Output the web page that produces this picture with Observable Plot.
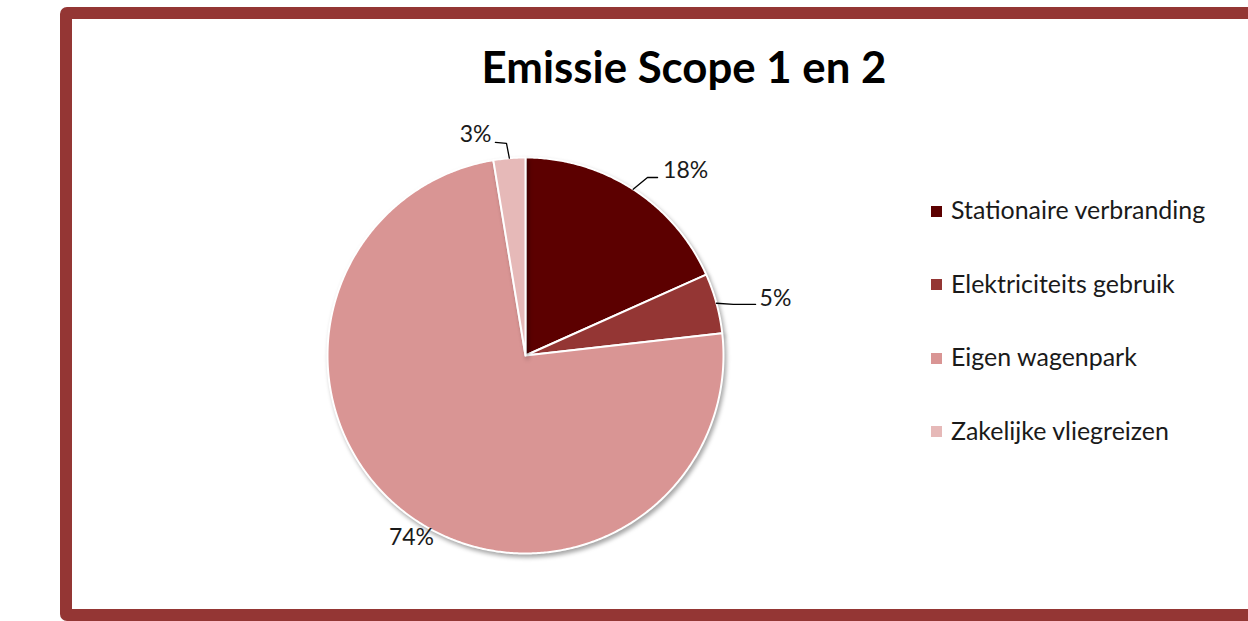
<!DOCTYPE html>
<html>
<head>
<meta charset="utf-8">
<script src="https://cdn.jsdelivr.net/npm/d3@7"></script>
<script src="https://cdn.jsdelivr.net/npm/@observablehq/plot@0.6"></script>
<style>
  html, body { margin: 0; padding: 0; background: #fff; }
  #wrap { position: relative; width: 1248px; height: 621px; overflow: hidden; font-family: Lato, "Open Sans", sans-serif; }
  #frame { position: absolute; left: 60px; top: 7px; width: 1220px; height: 590px; border: 12px solid #943634; border-radius: 7px; box-sizing: content-box; }
  #title { position: absolute; left: 0; width: 1368px; top: 0; text-align: center; font-weight: bold; color: #000; white-space: nowrap; }
  #legend { position: absolute; left: 931px; top: 0; }
  .item { position: absolute; left: 0; white-space: nowrap; color: #1a1a1a; }
  .sw { position: absolute; left: 0; width: 11px; height: 11px; }
  .lt { position: absolute; left: 20px; }
  #chart { position: absolute; left: 0; top: 0; }
</style>
</head>
<body>
<div id="wrap">
  <div id="frame"></div>
  <div id="title"></div>
  <div id="legend"></div>
  <div id="chart"></div>
</div>
<script>
// ---- data ----
const title = "Emissie Scope 1 en 2";
const categories = ["Stationaire verbranding", "Elektriciteits gebruik", "Eigen wagenpark", "Zakelijke vliegreizen"];
const values = [18.3, 4.9, 74.2, 2.6];
const labels = ["18%", "5%", "74%", "3%"];
const colors = ["#5c0000", "#943634", "#d99594", "#e6b9b8"];

// ---- layout (annotation placement, normalized to pie radius) ----
const cx = 525, cy = 355, R = 198;
const labelLayout = [
  {leader: [[0.616, 0.899], [0.667, 0.899]], text: [0.695, 0.934], anchor: "start"},
  {leader: [[1.05, 0.258], [1.162, 0.258]], text: [1.182, 0.288], anchor: "start"},
  {leader: null, text: [-0.576, -0.919], anchor: "middle"},
  {leader: [[-0.096, 1.071], [-0.152, 1.076]], text: [-0.172, 1.116], anchor: "end"}
];

function fitFont(text, weight, targetWidth, family) {
  const c = document.createElement("canvas").getContext("2d");
  c.font = `${weight} 100px ${family}`;
  return 100 * targetWidth / c.measureText(text).width;
}
const fam = "Lato";

// title
const tEl = document.getElementById("title");
const tSize = fitFont(title, "bold", 405, fam);
tEl.textContent = title;
tEl.style.fontSize = tSize + "px";
tEl.style.lineHeight = "1";
tEl.style.top = (81 - tSize * 0.82) + "px";

// legend
const lg = document.getElementById("legend");
const lSize = fitFont(categories[0], "normal", 255, fam);
const rowY = [211, 284.5, 358, 431.5];
categories.forEach((c, i) => {
  const it = document.createElement("div");
  it.className = "item";
  it.style.top = rowY[i] + "px";
  const sw = document.createElement("div");
  sw.className = "sw"; sw.style.background = colors[i]; sw.style.top = "-5.5px";
  const lt = document.createElement("div");
  lt.className = "lt"; lt.textContent = c; lt.style.fontSize = lSize + "px";
  lt.style.lineHeight = "1"; lt.style.top = (-lSize * 0.55) + "px";
  it.appendChild(sw); it.appendChild(lt);
  lg.appendChild(it);
});

// pie geometry from values
const total = d3.sum(values);
let acc = 0;
const slices = values.map((v, i) => {
  const a0 = acc / total * 2 * Math.PI;
  acc += v;
  const a1 = acc / total * 2 * Math.PI;
  const pts = [{x: 0, y: 0}];
  const n = Math.max(4, Math.ceil((a1 - a0) / (Math.PI / 360)));
  for (let k = 0; k <= n; k++) {
    const a = a0 + (a1 - a0) * k / n;
    pts.push({x: Math.sin(a), y: Math.cos(a)});
  }
  return {i, a0, a1, mid: (a0 + a1) / 2, pts};
});

const marks = [];
slices.forEach(s => {
  marks.push(Plot.line(s.pts, {x: "x", y: "y", curve: "linear-closed", fill: colors[s.i], stroke: "#fff", strokeWidth: 2, strokeLinejoin: "round"}));
});
const leaderMarks = [];
const textData = [];
slices.forEach(s => {
  const L = labelLayout[s.i];
  if (L.leader) {
    const pts = [{x: Math.sin(s.mid), y: Math.cos(s.mid)}, ...L.leader.map(p => ({x: p[0], y: p[1]}))];
    leaderMarks.push(Plot.line(pts, {x: "x", y: "y", stroke: "#000", strokeWidth: 1.3}));
  }
  textData.push({x: L.text[0], y: L.text[1], label: labels[s.i], anchor: L.anchor});
});
["start", "middle", "end"].forEach(a => {
  leaderMarks.push(Plot.text(textData.filter(d => d.anchor === a), {x: "x", y: "y", text: "label", textAnchor: a, fontSize: 23, fill: "#1a1a1a", fontFamily: fam}));
});

const plot = Plot.plot({
  width: 1248, height: 621,
  margin: 0,
  x: {domain: [-1, 1], range: [cx - R, cx + R], axis: null},
  y: {domain: [-1, 1], range: [cy + R, cy - R], axis: null},
  style: {background: "transparent", overflow: "visible"},
  marks: [...marks, ...leaderMarks]
});
// soft shadow on pie slices
plot.querySelectorAll('g[aria-label="line"]').forEach((g, idx) => {
  if (idx < slices.length) g.style.filter = "drop-shadow(2px 3px 2px rgba(0,0,0,0.35))";
});
document.getElementById("chart").appendChild(plot);
</script>
</body>
</html>
